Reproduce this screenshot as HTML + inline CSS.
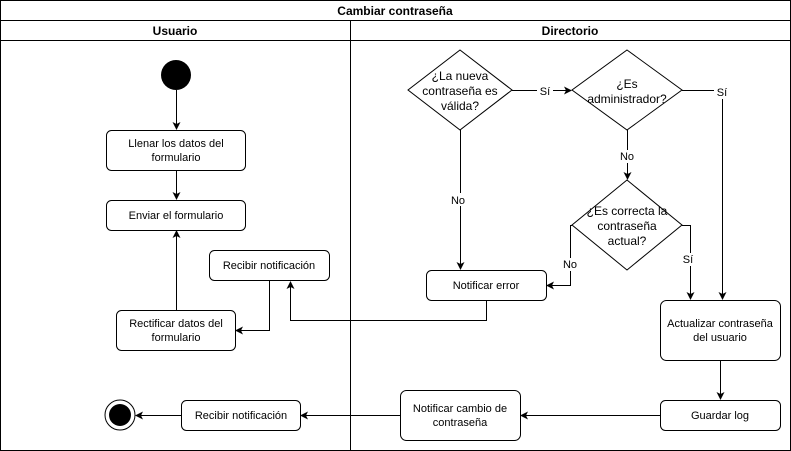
<!DOCTYPE html>
<html><head><meta charset="utf-8"><style>
body{margin:0;background:#fff}
svg{display:block;font-family:"Liberation Sans",Arial,sans-serif}
</style></head><body>
<svg width="791" height="451" viewBox="0 0 791 451" xmlns="http://www.w3.org/2000/svg">
<defs><marker id="a" markerWidth="8" markerHeight="8" refX="7" refY="4" orient="auto" markerUnits="userSpaceOnUse"><path d="M0,0 L8,4 L0,8 L2,4 Z" fill="#000"/></marker></defs>
<g fill="none" stroke="#000" stroke-width="1">
<rect x="0.5" y="0.5" width="790" height="450"/>
<line x1="0" y1="20.5" x2="791" y2="20.5"/>
<line x1="0" y1="40.5" x2="791" y2="40.5"/>
<line x1="350.5" y1="20" x2="350.5" y2="451"/>
</g>
<g font-size="12" font-weight="bold" text-anchor="middle">
<text x="395" y="15">Cambiar contraseña</text>
<text x="175" y="35">Usuario</text>
<text x="570" y="35">Directorio</text>
</g>
<circle cx="176" cy="75" r="15" fill="#000"/>
<circle cx="120" cy="415" r="15" fill="#fff" stroke="#000"/>
<circle cx="120" cy="415" r="11" fill="#000"/>
<g fill="#fff" stroke="#000">
<rect x="106.5" y="130.5" width="139" height="40" rx="5"/>
<rect x="106.5" y="200.5" width="139" height="30" rx="5"/>
<rect x="209.5" y="250.5" width="120" height="30" rx="5"/>
<rect x="116.5" y="310.5" width="119" height="40" rx="5"/>
<rect x="181.5" y="400.5" width="119" height="30" rx="5"/>
<rect x="400.5" y="390.5" width="120" height="50" rx="6"/>
<rect x="660.5" y="400.5" width="120" height="30" rx="5"/>
<rect x="660.5" y="300.5" width="120" height="60" rx="6"/>
<rect x="426.5" y="270.5" width="120" height="30" rx="5"/>
<polygon points="460,50 512,90 460,130 408,90"/>
<polygon points="627,50 682,90 627,130 572,90"/>
<polygon points="627,180 682,225 627,270 572,225"/>
</g>
<g fill="none" stroke="#000" marker-end="url(#a)">
<path d="M176.5,90 V129"/>
<path d="M176.5,170 V199"/>
<path d="M176.5,310 V231"/>
<path d="M269.5,281 V330.5 H236"/>
<path d="M486.5,300 V320.5 H290.5 V282"/>
<path d="M460.5,130 V269"/>
<path d="M512,90.5 H571"/>
<path d="M682,90.5 H722.5 V299"/>
<path d="M627.5,130 V179"/>
<path d="M572,225.5 H570.5 V285.5 H547"/>
<path d="M682,225.5 H690.5 V299"/>
<path d="M720.5,360 V399"/>
<path d="M660,415.5 H521"/>
<path d="M400,415.5 H301"/>
<path d="M181,415.5 H136"/>
</g>
<g font-size="11" text-anchor="middle">
<rect x="449" y="193" width="18" height="13" fill="#fff"/><text x="458" y="204">No</text>
<rect x="537" y="84" width="16" height="13" fill="#fff"/><text x="545" y="95">Sí</text>
<rect x="714" y="86" width="16" height="13" fill="#fff"/><text x="722" y="96">Sí</text>
<rect x="618" y="150" width="18" height="13" fill="#fff"/><text x="627" y="160">No</text>
<rect x="561" y="258" width="18" height="13" fill="#fff"/><text x="570" y="268">No</text>
<rect x="681" y="253" width="16" height="13" fill="#fff"/><text x="688" y="263">Sí</text>
<text x="176" y="147">Llenar los datos del</text><text x="176" y="161">formulario</text>
<text x="176" y="219">Enviar el formulario</text>
<text x="269" y="269">Recibir notificación</text>
<text x="176" y="327">Rectificar datos del</text><text x="176" y="341">formulario</text>
<text x="241" y="419">Recibir notificación</text>
<text x="460" y="412">Notificar cambio de</text><text x="460" y="426">contraseña</text>
<text x="720" y="419">Guardar log</text>
<text x="720" y="327">Actualizar contraseña</text><text x="720" y="341">del usuario</text>
<text x="486" y="289">Notificar error</text>
<g font-size="12">
<text x="460" y="80">¿La nueva</text><text x="460" y="95">contraseña es</text><text x="460" y="110">válida?</text>
<text x="627" y="88">¿Es</text><text x="627" y="103">administrador?</text>
<text x="627" y="215">¿Es correcta la</text><text x="627" y="230">contraseña</text><text x="627" y="245">actual?</text>
</g>
</g>
</svg>
</body></html>
